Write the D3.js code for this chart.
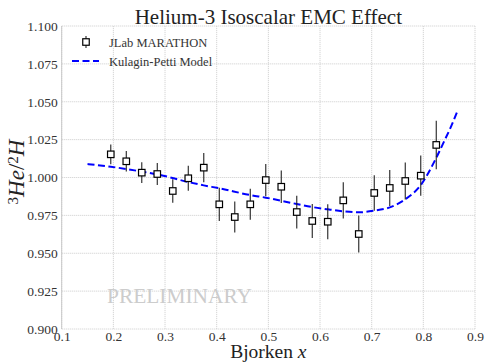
<!DOCTYPE html>
<html>
<head>
<meta charset="utf-8">
<script src="https://cdn.jsdelivr.net/npm/d3@7"></script>
<style>
  html, body { margin: 0; padding: 0; background: #fff; }
  svg { display: block; }
  svg text { font-family: "Liberation Serif", "Times New Roman", serif !important; }
</style>
</head>
<body>
<svg id="chart" width="485" height="363"></svg>
<script>
// MARATHON 3He/2H ratio points (Bjorken x, ratio, stat. error)
const dataX = [0.195, 0.225, 0.255, 0.285, 0.315, 0.345, 0.375, 0.405, 0.435, 0.465, 0.495,
               0.525, 0.555, 0.585, 0.615, 0.645, 0.675, 0.705, 0.735, 0.765, 0.795, 0.825];
const dataY = [1.0153, 1.0107, 1.0032, 1.0023, 0.9911, 0.9995, 1.0065, 0.9823, 0.9739, 0.9823, 0.9983,
               0.9939, 0.9772, 0.9713, 0.9708, 0.9849, 0.9627, 0.9898, 0.9931, 0.9977, 1.0012, 1.0215];
const dataErr = [0.0065, 0.0068, 0.0069, 0.0073, 0.0077, 0.0083, 0.0097, 0.0110, 0.0102, 0.0102, 0.0106,
                 0.0107, 0.0108, 0.0112, 0.0116, 0.0119, 0.0122, 0.0117, 0.0119, 0.0122, 0.0133, 0.0160];

// Kulagin-Petti model curve
const modelX = [0.15, 0.195, 0.255, 0.285, 0.345, 0.375, 0.405, 0.465, 0.495, 0.555, 0.585, 0.615,
                0.645, 0.675, 0.705, 0.735, 0.765, 0.795, 0.825, 0.84, 0.855, 0.865];
const modelY = [1.0089, 1.0071, 1.0039, 1.0021, 0.9970, 0.9948, 0.9929, 0.9884, 0.9867, 0.9825, 0.9805, 0.9790,
                0.9777, 0.9770, 0.9781, 0.9803, 0.9856, 0.9950, 1.0130, 1.0237, 1.0347, 1.0430];

// Axis ticks
const xTicks = [0.1, 0.2, 0.3, 0.4, 0.5, 0.6, 0.7, 0.8, 0.9];
const yTicks = [0.900, 0.925, 0.950, 0.975, 1.000, 1.025, 1.050, 1.075, 1.100];

const svg = d3.select("#chart");
const plotL = 61.7, plotR = 475, plotT = 26, plotB = 329;

const x = d3.scaleLinear().domain([0.1, 0.9]).range([plotL, plotR]);
const y = d3.scaleLinear().domain([0.9, 1.1]).range([plotB, plotT]);

// grid
const grid = svg.append("g");
grid.selectAll("line.gx").data(xTicks).join("line")
  .attr("x1", d => x(d)).attr("x2", d => x(d)).attr("y1", plotT).attr("y2", plotB)
  .attr("stroke", "#cfcfcf").attr("stroke-width", 0.9).attr("stroke-dasharray", "1.2,0.8");
grid.selectAll("line.gy").data(yTicks).join("line")
  .attr("x1", plotL).attr("x2", plotR).attr("y1", d => y(d)).attr("y2", d => y(d))
  .attr("stroke", "#cfcfcf").attr("stroke-width", 0.9).attr("stroke-dasharray", "1.2,0.8");

// left spine
svg.append("line").attr("x1", plotL).attr("x2", plotL).attr("y1", plotT).attr("y2", plotB)
  .attr("stroke", "#c8c8c8").attr("stroke-width", 1);

// axes (labels only)
const xAxis = svg.append("g").attr("transform", `translate(0,${plotB})`)
  .call(d3.axisBottom(x).tickValues(xTicks).tickFormat(d3.format(".1f")).tickSize(0).tickPadding(2));
const yAxis = svg.append("g").attr("transform", `translate(${plotL},0)`)
  .call(d3.axisLeft(y).tickValues(yTicks).tickFormat(d3.format(".3f")).tickSize(0).tickPadding(4));
[xAxis, yAxis].forEach(a => {
  a.select(".domain").remove();
  a.attr("font-family", null);
  a.selectAll("text").attr("font-size", 13.5).attr("fill", "#333");
});

// watermark
svg.append("text").attr("x", 107).attr("y", 303)
  .attr("font-size", 20).attr("fill", "#cccccc")
  .attr("textLength", 145).attr("lengthAdjust", "spacingAndGlyphs")
  .text("PRELIMINARY");

// model curve
const line = d3.line().x((d, i) => x(modelX[i])).y(d => y(d)).curve(d3.curveMonotoneX);
svg.append("path").attr("d", line(modelY))
  .attr("fill", "none").attr("stroke", "#0000ff").attr("stroke-width", 2)
  .attr("stroke-dasharray", "7,3.5");

// data points with error bars
const pts = svg.append("g");
const idx = d3.range(dataX.length);
pts.selectAll("line").data(idx).join("line")
  .attr("x1", i => x(dataX[i])).attr("x2", i => x(dataX[i]))
  .attr("y1", i => y(dataY[i] - dataErr[i])).attr("y2", i => y(dataY[i] + dataErr[i]))
  .attr("stroke", "#222").attr("stroke-width", 1.1);
const sq = 6.5;
pts.selectAll("rect").data(idx).join("rect")
  .attr("x", i => x(dataX[i]) - sq / 2).attr("y", i => y(dataY[i]) - sq / 2)
  .attr("width", sq).attr("height", sq)
  .attr("fill", "#fff").attr("stroke", "#000").attr("stroke-width", 1.2);

// legend
const lg = svg.append("g");
lg.append("line").attr("x1", 86).attr("x2", 86).attr("y1", 36).attr("y2", 48)
  .attr("stroke", "#222").attr("stroke-width", 1.1);
lg.append("rect").attr("x", 86 - sq / 2).attr("y", 42 - sq / 2).attr("width", sq).attr("height", sq)
  .attr("fill", "#fff").attr("stroke", "#000").attr("stroke-width", 1.2);
lg.append("text").attr("x", 109).attr("y", 46.5).attr("font-size", 12.5).attr("fill", "#333")
  .text("JLab MARATHON");
lg.append("line").attr("x1", 72).attr("x2", 99).attr("y1", 61).attr("y2", 61)
  .attr("stroke", "#0000ff").attr("stroke-width", 2).attr("stroke-dasharray", "7,3.5");
lg.append("text").attr("x", 109).attr("y", 65.5).attr("font-size", 12.5).attr("fill", "#333")
  .text("Kulagin-Petti Model");

// title
svg.append("text").attr("x", (plotL + plotR) / 2).attr("y", 24).attr("text-anchor", "middle")
  .attr("font-size", 21).attr("fill", "#222").text("Helium-3 Isoscalar EMC Effect");

// x label
const xl = svg.append("text").attr("x", (plotL + plotR) / 2).attr("y", 358)
  .attr("text-anchor", "middle").attr("font-size", 19.5).attr("fill", "#222");
xl.append("tspan").text("Bjorken ");
xl.append("tspan").attr("font-style", "italic").text("x");

// y label
const yl = svg.append("text").attr("transform", "translate(24,172) rotate(-90)")
  .attr("text-anchor", "middle").attr("font-size", 23).attr("fill", "#222");
yl.append("tspan").attr("font-size", 15).attr("baseline-shift", "38%").text("3");
yl.append("tspan").attr("font-style", "italic").text("He");
yl.append("tspan").text("/");
yl.append("tspan").attr("font-size", 15).attr("baseline-shift", "38%").text("2");
yl.append("tspan").attr("font-style", "italic").text("H");
</script>
</body>
</html>
